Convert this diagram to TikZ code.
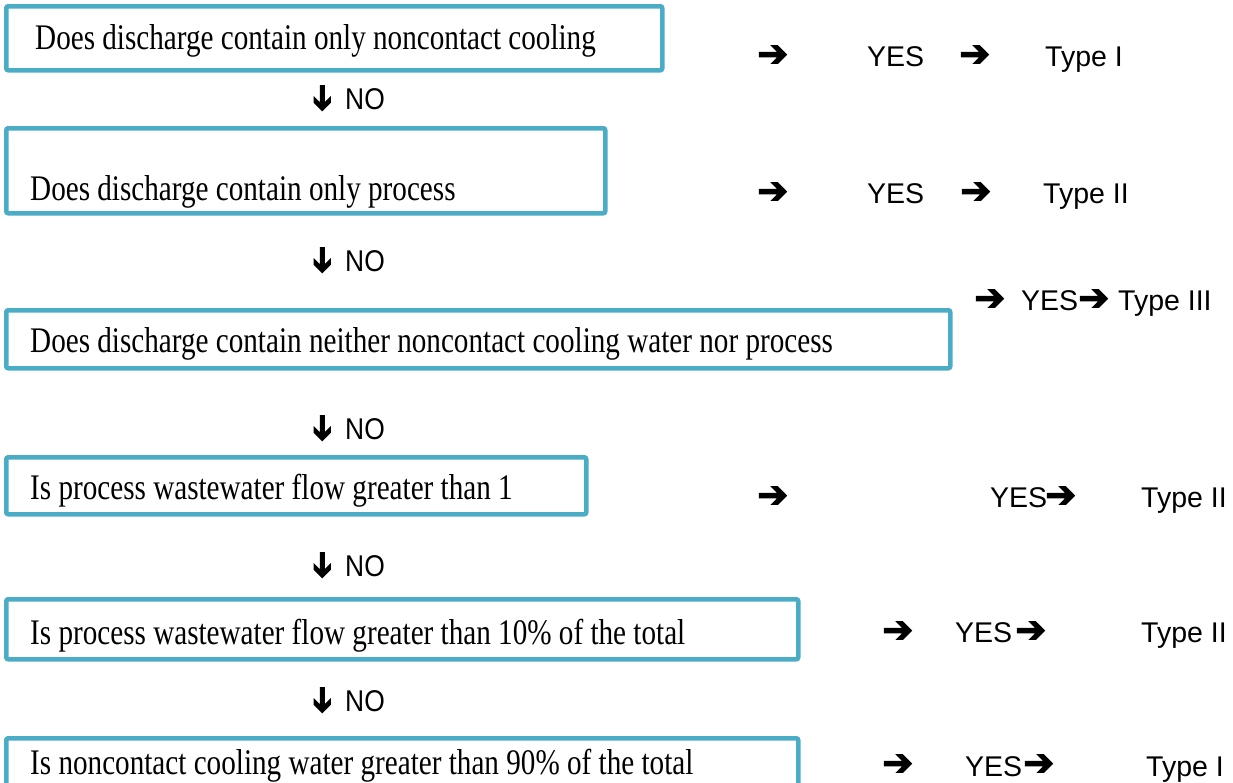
\documentclass[tikz,border=0pt]{standalone}
\usepackage{fontspec}
\setmainfont{Liberation Serif}
\newfontfamily\qfont[FakeStretch=0.81]{Liberation Serif}
\newfontfamily\ansfont{Liberation Sans}
\newfontfamily\nofont[FakeStretch=0.88]{Liberation Sans}
\newfontfamily\arrfont[FakeBold=3]{DejaVu Sans}
\definecolor{boxblue}{RGB}{75,172,198}
\tikzset{
  qbox/.style={draw=boxblue, line width=4.5pt, rounded corners=2pt, anchor=north west, inner sep=0pt, fill=none},
  qtext/.style={font=\qfont\fontsize{36}{40}\selectfont, anchor=base west, inner sep=0pt},
  anstext/.style={font=\ansfont\fontsize{28.5}{32}\selectfont, anchor=base west, inner sep=0pt},
  notext/.style={font=\nofont\fontsize{30}{34}\selectfont, anchor=base west, inner sep=0pt},
  rarr/.style={font=\arrfont\fontsize{37}{40}\selectfont, anchor=west, inner sep=0pt},
  darr/.style={font=\arrfont\fontsize{34}{38}\selectfont, anchor=center, inner sep=0pt}
}
\newcommand{\RA}{\raisebox{-0.05em}{➔}}
\newcommand{\DA}{\rotatebox{-90}{➔}}
\begin{document}
\begin{tikzpicture}[x=1pt,y=-1pt]
\useasboundingbox (0,0) rectangle (1233,782);
\clip (0,0) rectangle (1233,782);
% boxes
\node[qbox, minimum width=656pt, minimum height=64pt] (b1) at (4,4) {};
\node[qbox, minimum width=599pt, minimum height=85pt] (b2) at (4,126) {};
\node[qbox, minimum width=944pt, minimum height=58pt] (b3) at (4,308) {};
\node[qbox, minimum width=580pt, minimum height=57pt] (b4) at (4,455) {};
\node[qbox, minimum width=792pt, minimum height=60pt] (b5) at (4,597) {};
\node[qbox, minimum width=792pt, minimum height=70pt] (b6) at (4,736) {};
% box texts
\node[qtext] (q1) at (35,49) {Does discharge contain only noncontact cooling};
\node[qtext] (q2) at (30,200) {Does discharge contain only process};
\node[qtext] (q3) at (30,352) {Does discharge contain neither noncontact cooling water nor process};
\node[qtext] (q4) at (30,499) {Is process wastewater flow greater than 1};
\node[qtext] (q5) at (30,644) {Is process wastewater flow greater than 10\% of the total};
\node[qtext] (q6) at (30,774) {Is noncontact cooling water greater than 90\% of the total};
% NO labels
\node[darr] (d1) at (321,98) {\DA};  \node[notext] (n1) at (345,109) {NO};
\node[darr] (d2) at (321,260) {\DA}; \node[notext] (n2) at (345,271) {NO};
\node[darr] (d3) at (321,428) {\DA}; \node[notext] (n3) at (345,439) {NO};
\node[darr] (d4) at (321,565) {\DA}; \node[notext] (n4) at (345,576) {NO};
\node[darr] (d5) at (321,700) {\DA}; \node[notext] (n5) at (345,711) {NO};
% row 1
\node[rarr] (r1a) at (757,56) {\RA};
\node[anstext] (y1) at (867,66) {YES};
\node[rarr] (r1b) at (959,56) {\RA};
\node[anstext] (t1) at (1045,66) {Type I};
% row 2
\node[rarr] (r2a) at (757,193) {\RA};
\node[anstext] (y2) at (867,203) {YES};
\node[rarr] (r2b) at (960,193) {\RA};
\node[anstext] (t2) at (1043,203) {Type II};
% row 3
\node[rarr] (r3a) at (974,300) {\RA};
\node[anstext] (y3) at (1021,310) {YES};
\node[rarr] (r3b) at (1078,300) {\RA};
\node[anstext] (t3) at (1118,310) {Type III};
% row 4
\node[rarr] (r4a) at (757,497) {\RA};
\node[anstext] (y4) at (990,507) {YES};
\node[rarr] (r4b) at (1045,497) {\RA};
\node[anstext] (t4) at (1141,507) {Type II};
% row 5
\node[rarr] (r5a) at (882,632) {\RA};
\node[anstext] (y5) at (955,642) {YES};
\node[rarr] (r5b) at (1015,632) {\RA};
\node[anstext] (t5) at (1141,642) {Type II};
% row 6
\node[rarr] (r6a) at (882,765) {\RA};
\node[anstext] (y6) at (965,776) {YES};
\node[rarr] (r6b) at (1023,765) {\RA};
\node[anstext] (t6) at (1146,776) {Type I};
\end{tikzpicture}
\end{document}
